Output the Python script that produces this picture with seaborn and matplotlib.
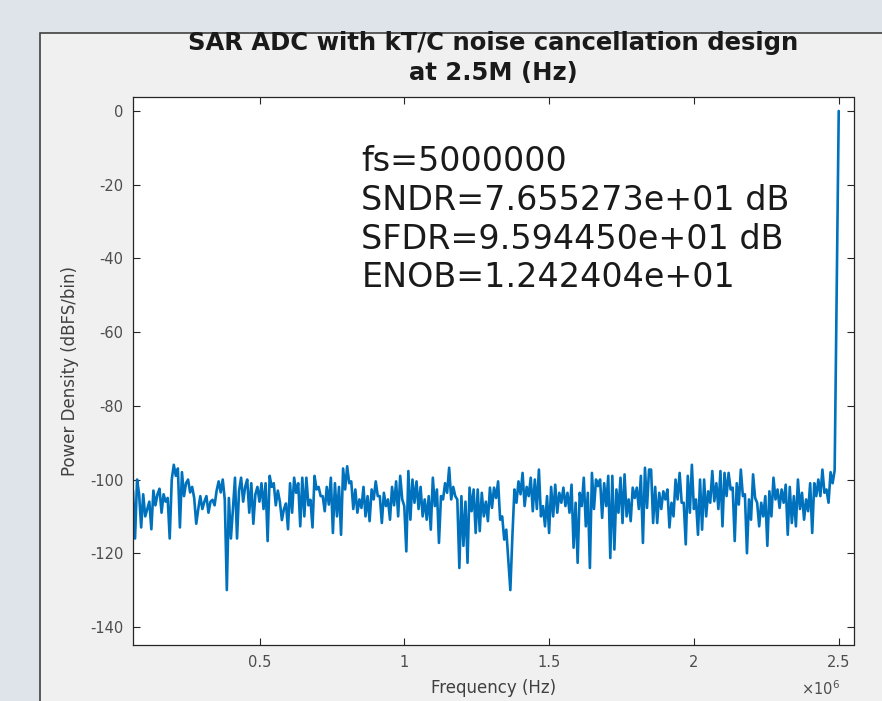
import numpy as np
import seaborn as sns
from matplotlib import pyplot as plt
from matplotlib.patches import Rectangle

# spectrum, split in four stretches from left to right (dBFS/bin)
noise_seg1 = [-103, -116, -100, -104, -113, -104, -110, -108, -106, -113.5, -103, -107, -104, -102.5,
              -109, -104, -106, -105, -116, -100, -96, -99, -97, -113, -98, -104.5, -101, -100,
              -103.5, -102, -105, -112, -108, -104.5, -108, -106, -104.5, -109, -106, -105.5, -107,
              -103, -100.5, -103.5, -100, -105.5, -130, -105, -116, -108, -99.5, -116, -103, -99.5,
              -106, -102, -100, -109, -101, -112, -104, -102, -106, -101, -108, -101, -116.7, -99,
              -102, -101, -107, -103, -106, -111, -108, -106.5, -113.5, -101, -109, -99.5, -103.6,
              -101, -112.7, -99.5, -110]
noise_seg2 = [-99.5, -107, -105.5, -113, -99, -102.7, -102, -104.5, -104.5, -108.6, -102, -106.8,
              -99.5, -114.5, -101, -110, -102, -115, -97, -102.7, -96.4, -101, -100.5, -108, -102.7,
              -109, -105.4, -107.7, -102, -110, -104.5, -111.3, -102.7, -105.4, -100.5, -104.5,
              -104.5, -111.8, -103.6, -107.2, -105.4, -110.9, -102, -107, -100.5, -110, -99, -105.4,
              -107.2, -119.5, -97.7, -110.9, -100, -106.3, -100.5, -108, -102, -110, -105.4, -110.9,
              -104.5, -113.6, -99.5, -107.2, -102.7, -117.2, -104.5, -105.4, -101, -103.6, -96.8,
              -105.4, -102, -104.5, -105.4, -124, -104.5, -118, -106, -122.6, -102.2, -108.6,
              -102.7, -114.5]
noise_seg3 = [-102.7, -114, -103.6, -110, -106, -111.3, -102.2, -107.7, -102.2, -105, -100.5, -110.9,
              -110, -116.3, -113.6, -121.7, -130, -115.4, -102.7, -106.3, -100.5, -104, -98.2,
              -107.2, -102, -104.5, -99.5, -108.6, -100, -108, -97.3, -110, -107.2, -112.7, -104.5,
              -114.5, -102, -110, -101.4, -109, -103.6, -106.3, -102.2, -107.2, -103.6, -109,
              -101.4, -118.5, -106.3, -122.6, -103.6, -107.2, -99.5, -112.7, -103.6, -124, -98.2,
              -108, -100, -101.8, -100, -110.4, -101, -107.2, -99, -121.3, -99, -119, -102.7, -109,
              -99.5, -111.8, -98.6, -110, -105.4, -111.3, -102.2, -105, -102.2, -108, -99, -117.2,
              -96.8, -107.7, -97.3]
noise_seg4 = [-97.3, -111.8, -102, -111.8, -103.6, -108, -103.2, -105.4, -102.7, -113, -106.3, -110,
              -100, -105.4, -98.2, -106.3, -106.3, -117.6, -99, -109, -96, -108, -105.4, -115, -100,
              -113.6, -100, -110, -103.2, -106.3, -97.7, -105.9, -101, -108, -97.7, -112.7, -98.2,
              -104.5, -98.2, -102.7, -102.2, -116.7, -101, -106.8, -97.3, -104.5, -104, -120,
              -105.4, -110.9, -98.6, -105, -106.3, -112.7, -106.3, -110, -104.5, -118, -103.2, -110,
              -99.5, -105.4, -102.7, -107.7, -102.7, -106.3, -101.4, -115, -102, -111.8, -104.5,
              -112.7, -100, -108, -103.6, -110.9, -105.4, -108.6, -101, -114.5, -101, -104.5, -100,
              -104.5, -97.3, -103.6, -102.7, -106.3, -98, -101, -97.5]
tone_db = [-49.6, 0.0]

fs = 5000000
f_first = 62500
stats_text = "fs=5000000\nSNDR=7.655273e+01 dB\nSFDR=9.594450e+01 dB\nENOB=1.242404e+01"
title_text = "SAR ADC with kT/C noise cancellation design\nat 2.5M (Hz)"
ytick_vals = [0, -20, -40, -60, -80, -100, -120, -140]
xtick_vals = [0.5e6, 1e6, 1.5e6, 2e6, 2.5e6]
xtick_labels = ["0.5", "1", "1.5", "2", "2.5"]

psd_db = np.array(noise_seg1 + noise_seg2 + noise_seg3 + noise_seg4 + tone_db)
freq = np.linspace(f_first, fs / 2, len(psd_db))  # FFT bins

sns.set_style("ticks")
plt.rcParams["font.family"] = ["DejaVu Sans"]

fig = plt.figure(figsize=(8.82, 7.01), dpi=100, facecolor="#dfe4eb")
# grey figure panel with dark border on left/top, like the MATLAB window
fig.patches.append(Rectangle((40 / 882, -0.01), 1.0, 1 - 33 / 701 + 0.01, transform=fig.transFigure,
                             facecolor="#f0f0f0", edgecolor="#404040", linewidth=1.2, zorder=-1))

ax = fig.add_axes([133 / 882, 1 - 645 / 701, 720.5 / 882, 548 / 701])
ax.set_facecolor("white")

sns.lineplot(x=freq, y=psd_db, ax=ax, color="#0072bd", linewidth=1.9, estimator=None, sort=False)

ax.set_xlim(f_first, 2.551e6)
ax.set_ylim(-144.9, 3.8)
ax.set_yticks(ytick_vals)
ax.set_yticklabels([str(v) for v in ytick_vals])
ax.set_xticks(xtick_vals)
ax.set_xticklabels(xtick_labels)

for s in ax.spines.values():
    s.set_visible(True)
    s.set_color("#262626")
    s.set_linewidth(0.9)
ax.tick_params(direction="in", length=5, width=0.8, top=True, right=True, color="#262626",
               labelcolor="#4d4d4d", labelsize=10.5, pad=7)

ax.set_xlabel("Frequency (Hz)", fontsize=12, color="#404040", labelpad=7)
ax.set_ylabel("Power Density (dBFS/bin)", fontsize=12, color="#404040", labelpad=8)
ax.text(0.981, -0.08, r"$\times10^{6}$", transform=ax.transAxes, ha="right", va="center",
        fontsize=10.5, color="#4d4d4d")

ax.text(0.317, 0.912, stats_text, transform=ax.transAxes, ha="left", va="top",
        fontsize=24, color="#1a1a1a", linespacing=1.22)

fig.text(0.559, 0.917, title_text, ha="center", va="center", fontsize=17.5, fontweight="bold",
         color="#1a1a1a", linespacing=1.3)

fig.savefig("out.png", dpi=100, facecolor=fig.get_facecolor())
